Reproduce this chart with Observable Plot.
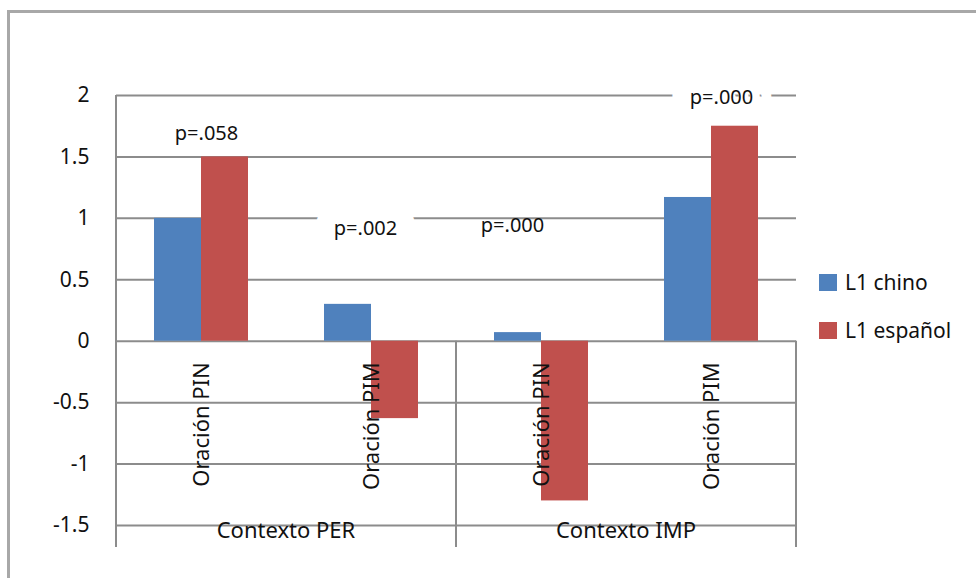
<!DOCTYPE html>
<html>
<head>
<meta charset="utf-8">
<script src="https://cdn.jsdelivr.net/npm/d3@7"></script>
<script src="https://cdn.jsdelivr.net/npm/@observablehq/plot@0.6"></script>
<style>
  html, body { margin: 0; padding: 0; background: #fff; }
  #wrap { position: relative; width: 976px; height: 578px; overflow: hidden; font-family: "Noto Sans", sans-serif; }
  #frame { position: absolute; left: 7px; top: 10px; width: 1000px; height: 600px; border-top: 3px solid #a8a8a8; border-left: 3px solid #a8a8a8; }
  #chart { position: absolute; left: 0; top: 0; }
  #legend { position: absolute; left: 819px; top: 258px; font-size: 21px; color: #111; }
  .item { display: flex; align-items: center; height: 48px; }
  .sw { width: 18px; height: 17px; margin-right: 8px; }
</style>
</head>
<body>
<div id="wrap">
  <div id="frame"></div>
  <div id="chart"></div>
  <div id="legend"></div>
</div>
<script>
// ---- data ----
const categories = ["PER-PIN", "PER-PIM", "IMP-PIN", "IMP-PIM"];
const categoryLabels = ["Oración PIN", "Oración PIM", "Oración PIN", "Oración PIM"];
const groups = ["Contexto PER", "Contexto IMP"];
const series = ["L1 chino", "L1 español"];
const chinoValues = [1.0, 0.30, 0.07, 1.17];
const espanolValues = [1.5, -0.63, -1.30, 1.75];
const yTicks = [-1.5, -1, -0.5, 0, 0.5, 1, 1.5, 2];
const pLabels = ["p=.058", "p=.002", "p=.000", "p=.000"];
const pLabelY = [1.69, 0.92, 0.94, 1.98];
const pLabelBoxed = [false, true, false, true];
const colors = ["#4F81BD", "#C0504D"];

const rows = [];
categories.forEach((c, i) => {
  rows.push({cat: c, series: series[0], value: chinoValues[i]});
  rows.push({cat: c, series: series[1], value: espanolValues[i]});
});
const catRows = categories.map((c, i) => ({cat: c, label: categoryLabels[i]}));
const pRows = categories.map((c, i) => ({cat: c, label: pLabels[i], y: pLabelY[i], boxed: pLabelBoxed[i]}));
const pShift = {"PER-PIN": 5, "PER-PIM": -6, "IMP-PIN": -29, "IMP-PIM": 10};

const font = "Noto Sans, sans-serif";
const grid = "#8c8c8c";

const plot = Plot.plot({
  width: 976,
  height: 578,
  marginLeft: 115,
  marginRight: 179,
  marginTop: 95,
  marginBottom: 53,
  style: {fontFamily: font, fontSize: "21px", background: "transparent", color: "#111"},
  fx: {domain: categories, padding: 0, axis: null},
  x: {domain: series, paddingInner: 0, paddingOuter: 0.8, axis: null},
  y: {domain: [-1.5, 2], ticks: yTicks, tickFormat: d => String(d), tickSize: 0, tickPadding: 27, label: null},
  color: {domain: series, range: colors},
  marks: [
    Plot.ruleY(yTicks, {stroke: grid, strokeWidth: 2}),
    Plot.barY(rows, {fx: "cat", x: "series", y: "value", fill: "series"}),
    ...pRows.map(d => Plot.text([d], {
      fx: "cat", y: "y", text: "label", fontSize: 20, fill: "#111", dx: pShift[d.cat],
      stroke: d.boxed ? "white" : "none", strokeWidth: d.boxed ? 38 : 0
    })),
    Plot.text(catRows, {fx: "cat", y: () => 0, text: "label", rotate: -90, textAnchor: "end", lineAnchor: "middle", dy: 21, fontSize: 22, fill: "#111"})
  ]
});
document.getElementById("chart").appendChild(plot);

// ---- category-axis lines and group labels, placed via the plot's scales ----
const fx = plot.scale("fx"), y = plot.scale("y");
const svg = d3.select(plot);
const bw = fx.bandwidth;
const y0 = y.apply(0), yTop = y.apply(2), yBottom = y.apply(-1.5) + 22;
const left = fx.apply(categories[0]);
const mid = fx.apply(categories[2]);
const right = fx.apply(categories[3]) + bw;
const ag = svg.append("g").attr("stroke", grid).attr("stroke-width", 2);
ag.append("line").attr("x1", left).attr("x2", left).attr("y1", yTop).attr("y2", yBottom);
[mid, right].forEach(xp => ag.append("line").attr("x1", xp).attr("x2", xp).attr("y1", y0).attr("y2", yBottom));
const tg = svg.append("g").attr("font-family", font).attr("font-size", 22).attr("fill", "#111").attr("text-anchor", "middle");
[[groups[0], fx.apply(categories[1])], [groups[1], fx.apply(categories[3])]].forEach(([t, xp]) => {
  tg.append("text").attr("x", xp).attr("y", y.apply(-1.5) + 5).attr("dy", "0.35em").text(t);
});

// ---- legend ----
const lg = d3.select("#legend");
series.forEach((s, i) => {
  const it = lg.append("div").attr("class", "item");
  it.append("div").attr("class", "sw").style("background", colors[i]);
  it.append("span").text(s);
});
</script>
</body>
</html>
